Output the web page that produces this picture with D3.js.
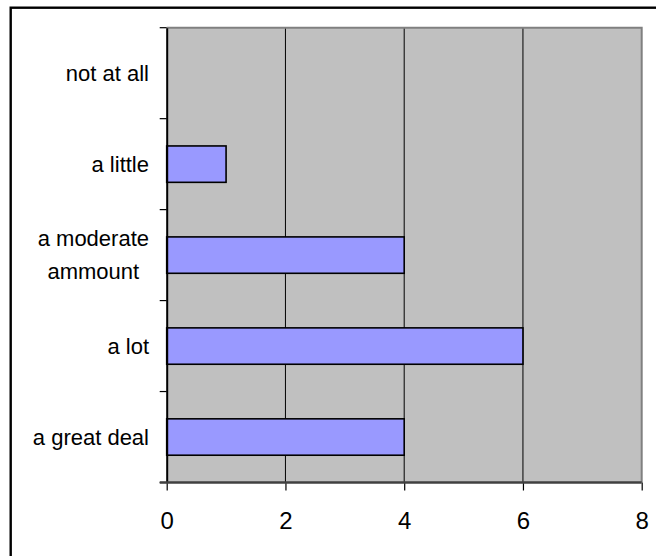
<!DOCTYPE html>
<html>
<head>
<meta charset="utf-8">
<script src="https://cdn.jsdelivr.net/npm/d3@7"></script>
<style>
  html, body { margin: 0; padding: 0; background: #ffffff; }
  svg { display: block; }
  text { font-family: "Liberation Sans", Arial, sans-serif; fill: #000; }
</style>
</head>
<body>
<svg id="chart" width="656" height="556"></svg>
<script>
const categories = ["not at all", "a little", "a moderate ammount", "a lot", "a great deal"];
const categoryLines = [["not at all"], ["a little"], ["a moderate", "ammount"], ["a lot"], ["a great deal"]];
const values = [0, 1, 4, 6, 4];
const xTicks = [0, 2, 4, 6, 8];

(function () {
const svg = d3.select("#chart");
const pLeft = 166.7, pRight = 641.7, pTop = 27.7, pBottom = 482.5;

// outer chart border (right/bottom edges fall outside the frame)
svg.append("rect")
  .attr("x", 10.7).attr("y", 7.7)
  .attr("width", 700).attr("height", 600)
  .attr("fill", "#fff").attr("stroke", "#000").attr("stroke-width", 2.4);

const x = d3.scaleLinear().domain([0, 8]).range([pLeft, pRight]);
const y = d3.scaleBand().domain(categories).range([pTop, pBottom]).paddingInner(0).paddingOuter(0);

// plot area
svg.append("rect")
  .attr("x", pLeft).attr("y", pTop)
  .attr("width", pRight - pLeft).attr("height", pBottom - pTop)
  .attr("fill", "#c0c0c0");

// gridlines
svg.append("g").selectAll("line")
  .data(xTicks.filter(d => d > 0 && d < 8))
  .join("line")
  .attr("x1", d => x(d)).attr("x2", d => x(d))
  .attr("y1", pTop).attr("y2", pBottom)
  .attr("stroke", "#000").attr("stroke-width", 1);

// plot border top/right (gray)
svg.append("path")
  .attr("d", `M${pLeft},${pTop}H${pRight}V${pBottom}`)
  .attr("fill", "none").attr("stroke", "#808080").attr("stroke-width", 2);

// bars
const barH = y.bandwidth() * 0.4;
svg.append("g").selectAll("rect")
  .data(categories.map((c, i) => ({c, v: values[i]})).filter(d => d.v > 0))
  .join("rect")
  .attr("x", x(0))
  .attr("y", d => y(d.c) + y.bandwidth() / 2 - barH / 2)
  .attr("width", d => x(d.v) - x(0))
  .attr("height", barH)
  .attr("fill", "#9999ff").attr("stroke", "#000").attr("stroke-width", 1.6);

// y axis
const yAxis = d3.axisLeft(y).tickSize(0).tickFormat("");
const yg = svg.append("g").attr("transform", `translate(${pLeft},0)`).call(yAxis);
yg.select(".domain").attr("stroke", "#000").attr("stroke-width", 2);
// boundary ticks
svg.append("g").selectAll("line")
  .data(d3.range(categories.length + 1))
  .join("line")
  .attr("x1", pLeft - 7).attr("x2", pLeft)
  .attr("y1", i => pTop + i * y.step()).attr("y2", i => pTop + i * y.step())
  .attr("stroke", "#000").attr("stroke-width", 1.2);

// category labels
const labelRight = 149;
const lineH = 33;
categories.forEach((c, i) => {
  const lines = categoryLines[i];
  const cy = y(c) + y.bandwidth() / 2;
  const g = svg.append("g");
  const texts = lines.map((ln, j) => g.append("text")
    .attr("font-size", 22)
    .attr("text-anchor", "middle")
    .attr("y", cy + 7.7 + (j - (lines.length - 1) / 2) * lineH)
    .text(ln));
  const maxW = d3.max(texts, t => t.node().getComputedTextLength());
  texts.forEach(t => t.attr("x", labelRight - maxW / 2));
});

// x axis
const xAxis = d3.axisBottom(x).tickValues(xTicks).tickSize(8).tickPadding(0).tickFormat(d3.format("d"));
const xg = svg.append("g").attr("transform", `translate(0,${pBottom})`).call(xAxis);
xg.select(".domain").remove();
xg.selectAll(".tick line").attr("stroke", "#000").attr("stroke-width", 1.2);
xg.selectAll(".tick text")
  .attr("font-size", 24)
  .attr("dy", null)
  .attr("y", 46.5)
  .attr("font-family", "Liberation Sans, Arial, sans-serif")
  .attr("fill", "#000");
svg.append("line")
  .attr("x1", pLeft - 7).attr("x2", pRight)
  .attr("y1", pBottom).attr("y2", pBottom)
  .attr("stroke", "#404040").attr("stroke-width", 2.4);
})();
</script>
</body>
</html>
